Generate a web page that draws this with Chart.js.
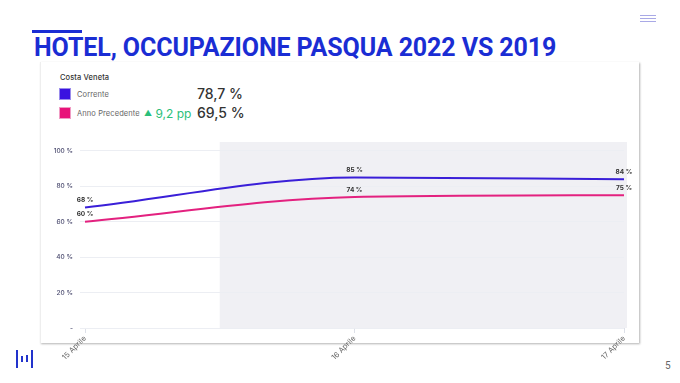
<!DOCTYPE html>
<html>
<head>
<meta charset="utf-8">
<script src="https://cdn.jsdelivr.net/npm/chart.js@4.4.1/dist/chart.umd.min.js"></script>
<style>
  html,body{margin:0;padding:0;background:#fff;}
  body{width:680px;height:383px;position:relative;overflow:hidden;font-family:Inter,Roboto,"Noto Sans",sans-serif;}
  .bar{position:absolute;left:32px;top:30px;width:50px;height:3px;background:#1a2dd4;}
  .title{position:absolute;left:34px;top:33px;font-family:Roboto,"Noto Sans",sans-serif;font-weight:700;font-size:25px;color:#1a2dd4;white-space:nowrap;letter-spacing:-0.1px;}
  .menu{position:absolute;left:640px;top:15px;width:16px;}
  .menu div{height:1px;background:#a9a9e6;margin-bottom:2px;}
  .card{position:absolute;left:40px;top:62px;width:598px;height:281px;background:#fff;border-left:1px solid #eee;box-shadow:1px 1px 2px rgba(0,0,0,0.3);}
  .lg{position:absolute;font-size:7.5px;color:#333;white-space:nowrap;letter-spacing:0.1px;}
  .sq{position:absolute;width:10px;height:10px;border:1px solid;}
  .big{position:absolute;font-size:14px;color:#333;white-space:nowrap;font-weight:500;}
  .green{position:absolute;font-size:12px;color:#2bbf7a;white-space:nowrap;}
  #cwrap{position:absolute;left:40px;top:130px;width:598px;height:230px;}
  .page{position:absolute;left:665px;top:360px;font-size:10px;color:#666;font-family:Roboto,sans-serif;}
  .logo div{position:absolute;background:#2233cc;width:2px;}
</style>
</head>
<body>
<div class="bar"></div>
<div class="title" id="title">HOTEL, OCCUPAZIONE PASQUA 2022 VS 2019</div>
<div class="menu"><div></div><div></div><div></div></div>
<div class="card"></div>
<div class="lg" style="left:60px;top:73px;font-weight:500;">Costa Veneta</div>
<div class="sq" style="left:59px;top:88px;background:#3a12e0;border-color:#9a8cec;"></div>
<div class="lg" style="left:77px;top:90px;color:#666;">Corrente</div>
<div class="big" id="v1" style="left:197px;top:85px;"></div>
<div class="sq" style="left:59px;top:107px;background:#e8137a;border-color:#f09cc4;"></div>
<div class="lg" style="left:77px;top:109px;color:#666;">Anno Precedente</div>
<div class="green" id="delta" style="left:144px;top:106px;"></div>
<div class="big" id="v2" style="left:197px;top:104px;"></div>
<div id="cwrap"><canvas id="c" width="598" height="230"></canvas></div>
<div class="page">5</div>
<div class="logo">
  <div style="left:16px;top:350px;height:18px;"></div>
  <div style="left:21px;top:356px;height:6px;"></div>
  <div style="left:26px;top:355px;height:7px;"></div>
  <div style="left:31px;top:350px;height:18px;"></div>
</div>
<script>
const categories = ["15 Aprile", "16 Aprile", "17 Aprile"];
const corrente = [68, 85, 84];
const annoPrecedente = [60, 74, 75];
const yTicks = [0, 20, 40, 60, 80, 100];
const summaryCorrente = "78,7 %";
const summaryPrecedente = "69,5 %";
const summaryDelta = "9,2 pp";

document.getElementById('v1').textContent = summaryCorrente;
document.getElementById('v2').textContent = summaryPrecedente;
document.getElementById('delta').innerHTML = '<span style="font-size:8px;position:relative;top:-2px;">▲</span> ' + summaryDelta;

const shadePlugin = {
  id: 'shade',
  beforeDraw(chart) {
    const {ctx, chartArea, scales} = chart;
    const x0 = (scales.x.getPixelForValue(0) + scales.x.getPixelForValue(1)) / 2;
    ctx.save();
    ctx.fillStyle = '#f0f0f4';
    ctx.fillRect(x0, chartArea.top, chartArea.right + 3 - x0, chartArea.bottom - chartArea.top);
    ctx.restore();
  }
};
const labelPlugin = {
  id: 'lbl',
  afterDatasetsDraw(chart) {
    const ctx = chart.ctx;
    ctx.save();
    ctx.font = 'bold 6.5px Inter, Roboto, sans-serif';
    ctx.fillStyle = '#333';
    ctx.textAlign = 'center';
    ctx.textBaseline = 'bottom';
    chart.data.datasets.forEach((ds, i) => {
      chart.getDatasetMeta(i).data.forEach((pt, j) => {
        ctx.fillText(ds.data[j] + ' %', pt.x, pt.y - 4);
      });
    });
    ctx.restore();
  }
};

new Chart(document.getElementById('c'), {
  type: 'line',
  data: {
    labels: categories,
    datasets: [
      {label: 'Corrente', data: corrente, borderColor: '#3a1fd8', borderWidth: 2, pointRadius: 0, cubicInterpolationMode: 'monotone'},
      {label: 'Anno Precedente', data: annoPrecedente, borderColor: '#e3217f', borderWidth: 2, pointRadius: 0, cubicInterpolationMode: 'monotone'}
    ]
  },
  options: {
    responsive: false,
    animation: false,
    layout: {padding: {top: 12, right: 14, left: 0, bottom: 0}},
    plugins: {legend: {display: false}, tooltip: {enabled: false}},
    scales: {
      x: {
        offset: false,
        border: {display: false},
        grid: {drawOnChartArea: false, tickLength: 5, color: '#dde0e8'},
        ticks: {minRotation: 45, maxRotation: 45, font: {size: 7.5, family: 'Inter, Roboto, sans-serif'}, color: '#666', padding: 1},
        afterFit(s) { s.height = 32; }
      },
      y: {
        min: 0, max: 105,
        border: {display: false},
        afterBuildTicks(s) { s.ticks = yTicks.map(v => ({value: v})); },
        grid: {color: '#eceef3', tickLength: 5},
        ticks: {font: {size: 6.5, weight: '500', family: 'Inter, Roboto, sans-serif'}, color: '#4a4a6e', padding: 7,
          callback: v => v === 0 ? '-' : v + ' %'},
        afterFit(s) { s.width = 45; }
      }
    }
  },
  plugins: [shadePlugin, labelPlugin]
});
</script>
</body>
</html>
